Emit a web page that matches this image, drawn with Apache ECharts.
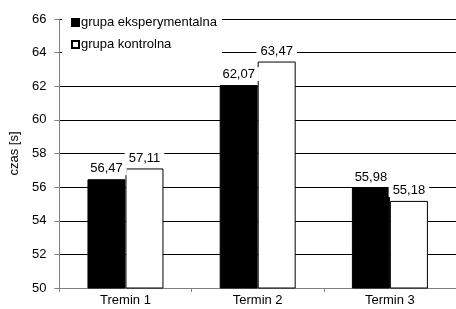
<!DOCTYPE html>
<html><head><meta charset="utf-8">
<script src="https://cdn.jsdelivr.net/npm/echarts@6/dist/echarts.min.js"></script>
<style>html,body{margin:0;padding:0;background:#fff}#c{width:456px;height:309px}</style>
</head><body><div id="c"></div>
<script>
const categories = ['Tremin 1', 'Termin 2', 'Termin 3'];
const seriesNames = ['grupa eksperymentalna', 'grupa kontrolna'];
const experimental = [56.47, 62.07, 55.98];
const control = [57.11, 63.47, 55.18];
const yTicks = [50, 52, 54, 56, 58, 60, 62, 64, 66];

const chart = echarts.init(document.getElementById('c'), null, {renderer: 'canvas'});
const font = 'Liberation Sans, Arial, sans-serif';
const lbl = {
  show: true, position: 'top', distance: 4, color: '#000', fontSize: 13, fontFamily: font,
  backgroundColor: '#fff', padding: [1, 4, 0, 4],
  formatter: p => p.value.toFixed(2).replace('.', ',')
};
chart.setOption({
  animation: false,
  textStyle: {fontFamily: font},
  grid: {left: 59, top: 19, width: 399, height: 269, containLabel: false},
  legend: {
    orient: 'vertical', left: 62, top: 8, itemWidth: 7, itemHeight: 7, itemGap: 7,
    backgroundColor: '#fff', padding: [7, 5, 5, 9],
    textStyle: {fontSize: 13, lineHeight: 15, color: '#000', fontFamily: font, padding: [0, 0, 0, -3]},
    data: seriesNames.map(n => ({name: n, icon: 'rect'}))
  },
  xAxis: {
    type: 'category', data: categories,
    axisLine: {lineStyle: {color: '#808080', width: 1}},
    axisTick: {show: true, length: 4, lineStyle: {color: '#808080'}},
    axisLabel: {color: '#000', fontSize: 13, margin: 6, fontFamily: font},
    splitLine: {show: false}
  },
  yAxis: {
    type: 'value', min: yTicks[0], max: yTicks[yTicks.length - 1], interval: 2,
    name: 'czas [s]', nameLocation: 'middle', nameGap: 37,
    nameTextStyle: {color: '#000', fontSize: 13, fontFamily: font},
    axisLine: {show: true, lineStyle: {color: '#808080', width: 1}},
    axisTick: {show: true, length: 5, lineStyle: {color: '#808080'}},
    axisLabel: {color: '#000', fontSize: 13, margin: 13, fontFamily: font},
    splitLine: {show: true, lineStyle: {color: '#000', width: 1}}
  },
  series: [
    {name: seriesNames[0], type: 'bar', data: experimental, barWidth: 38, barGap: '0%',
     itemStyle: {color: '#000', borderColor: '#000', borderWidth: 1}, label: lbl},
    {name: seriesNames[1], type: 'bar', data: control, barWidth: 38, barGap: '0%',
     itemStyle: {color: '#fff', borderColor: '#000', borderWidth: 1}, label: lbl}
  ]
});
</script></body></html>
